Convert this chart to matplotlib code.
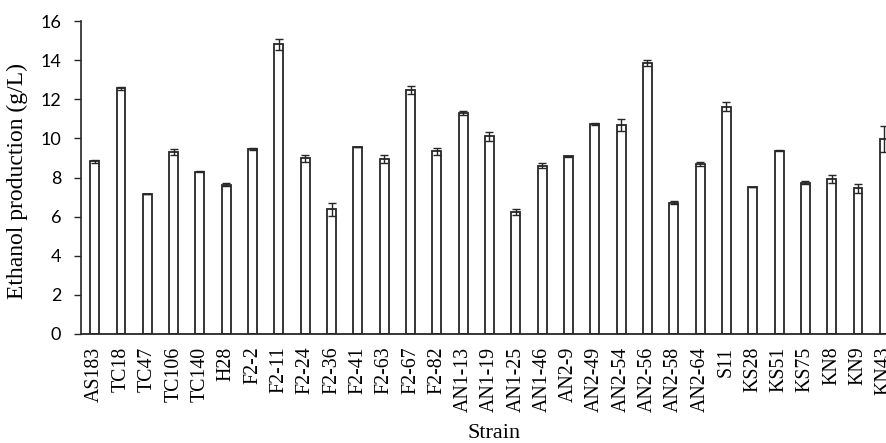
import matplotlib
matplotlib.use("Agg")
import matplotlib.pyplot as plt
import numpy as np

strains = ["AS183", "TC18", "TC47", "TC106", "TC140", "H28", "F2-2", "F2-11",
           "F2-24", "F2-36", "F2-41", "F2-63", "F2-67", "F2-82", "AN1-13",
           "AN1-19", "AN1-25", "AN1-46", "AN2-9", "AN2-49", "AN2-54", "AN2-56",
           "AN2-58", "AN2-64", "S11", "KS28", "KS51", "KS75", "KN8", "KN9", "KN43"]
ethanol = [8.82, 12.55, 7.14, 9.3, 8.3, 7.63, 9.45, 14.8,
           8.98, 6.37, 9.58, 8.93, 12.47, 9.34, 11.3,
           10.1, 6.22, 8.6, 9.08, 10.73, 10.7, 13.85,
           6.72, 8.68, 11.62, 7.5, 9.37, 7.74, 7.93, 7.45, 9.97]
err = [0.08, 0.08, 0.0, 0.15, 0.04, 0.07, 0.04, 0.28,
       0.18, 0.35, 0.0, 0.2, 0.22, 0.19, 0.1,
       0.24, 0.15, 0.13, 0.03, 0.07, 0.3, 0.15,
       0.06, 0.09, 0.24, 0.0, 0.03, 0.07, 0.19, 0.24, 0.66]

W, H = 887, 443
fig = plt.figure(figsize=(W / 100, H / 100), dpi=100)
# axes runs past the right edge, so the last bar gets cut like in the original
ax = fig.add_axes([81.5 / W, 109 / H, 816 / W, 313 / H])

x = np.arange(len(strains))
ax.bar(x, ethanol, width=0.34, color="white", edgecolor="#262626", linewidth=1.3,
       zorder=2)
ax.errorbar(x, ethanol, yerr=err, fmt="none", ecolor="#262626", elinewidth=1.0,
            capsize=3.2, capthick=1.0, zorder=3)

ax.set_xlim(-0.5, len(strains) - 0.5)
ax.set_ylim(0, 16)
ax.set_yticks(range(0, 17, 2))
ax.tick_params(axis="y", direction="out", length=5, width=1, colors="#262626",
               labelsize=13, pad=9.5)
for lab in ax.get_yticklabels():
    lab.set_fontfamily("Lato")
    lab.set_color("black")

ax.set_xticks(x)
ax.set_xticklabels(strains, rotation=90, fontfamily="Liberation Serif",
                   fontsize=14.3)
ax.tick_params(axis="x", length=0, pad=9)

for s in ["top", "right"]:
    ax.spines[s].set_visible(False)
ax.spines["left"].set_color("#262626")
ax.spines["bottom"].set_color("#262626")
ax.spines["left"].set_linewidth(1.2)
ax.spines["bottom"].set_linewidth(1.3)

fig.text(17 / W, 1 - 181 / H, "Ethanol production (g/L)", rotation=90,
         fontfamily="Liberation Serif", fontsize=17, ha="center", va="center")
fig.text(494 / W, 1 - 433 / H, "Strain", fontfamily="Liberation Serif",
         fontsize=16, ha="center", va="center")

fig.savefig("out.png", dpi=100)
